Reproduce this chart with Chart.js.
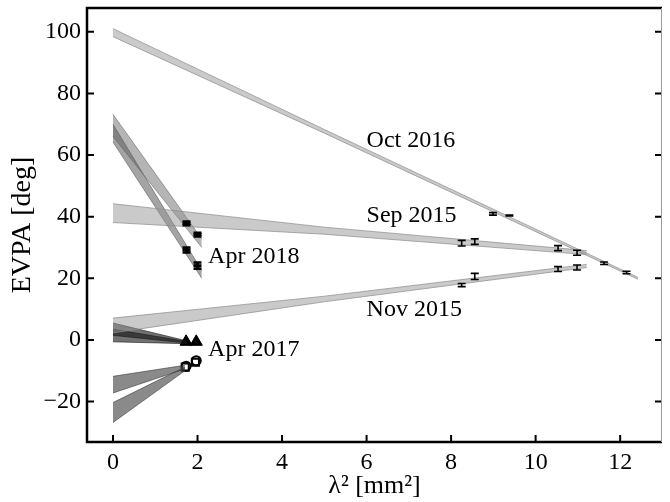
<!DOCTYPE html>
<html>
<head>
<meta charset="utf-8">
<script src="https://cdn.jsdelivr.net/npm/chart.js@4/dist/chart.umd.min.js"></script>
<style>
  html, body { margin: 0; padding: 0; background: #fff; }
  #wrap { width: 670px; height: 502px; }
</style>
</head>
<body>
<div id="wrap"><canvas id="evpaChart" width="670" height="502"></canvas></div>
<script>
// fit bands: x of edge points, upper edge, lower edge
var octX = [0, 5, 12.42];
var octHi = [101.0, 68.3, 20.3];
var octLo = [98.4, 67.1, 19.7];

var sepX = [0, 5, 11.21];
var sepHi = [44.2, 36.6, 29.0];
var sepLo = [38.1, 34.3, 27.7];

var novX = [0, 5, 11.21];
var novHi = [7.1, 14.2, 24.5];
var novLo = [2.3, 12.4, 23.5];

var apr18X = [0, 2.1];
var apr18aHi = [73.2, 32.8];
var apr18aLo = [66.0, 30.0];
var apr18bHi = [70.0, 22.5];
var apr18bLo = [64.2, 20.0];

var apr17X = [0, 1.75];
var apr17aHi = [5.5, -0.3];
var apr17aLo = [1.5, -1.0];
var apr17bHi = [3.5, -0.5];
var apr17bLo = [-0.6, -1.2];

var sqX = [0, 1.7];
var sqaHi = [-11.8, -8.2];
var sqaLo = [-17.2, -9.4];
var sqbHi = [-20.3, -8.8];
var sqbLo = [-26.8, -10.0];

// measurements with error bars
var octPtX = [8.99, 9.38, 11.62, 12.15];
var octPtY = [40.9, 40.4, 24.9, 21.9];
var octPtE = [0.4, 0.15, 0.4, 0.4];

var sepPtX = [8.25, 8.56, 10.53, 10.98];
var sepPtY = [31.4, 31.9, 29.8, 28.3];
var sepPtE = [0.9, 0.9, 0.8, 0.8];

var novPtX = [8.25, 8.56, 10.53, 10.98];
var novPtY = [17.8, 20.6, 23.0, 23.5];
var novPtE = [0.5, 1.0, 0.8, 0.8];

var apr18PtX = [1.74, 2.0, 1.74, 2.0];
var apr18PtY = [37.8, 34.2, 29.2, 24.1];
var apr18PtE = [0.6, 0.6, 0.8, 1.0];

var triX = [1.73, 1.97];
var triY = [-0.6, -0.6];
var squareX = [1.71, 1.95];
var squareY = [-8.8, -7.2];
var circleX = [1.73, 1.97];
var circleY = [-8.5, -6.7];

// annotations
var labelText = ["Oct 2016", "Sep 2015", "Nov 2015", "Apr 2018", "Apr 2017"];
var labelX = [6.0, 6.0, 6.0, 2.25, 2.25];
var labelY = [64.5, 40.2, 9.8, 27.0, -3.2];

var xTicks = [0, 2, 4, 6, 8, 10, 12];
var yTicks = [-20, 0, 20, 40, 60, 80, 100];

var SERIF = "'Liberation Serif', 'DejaVu Serif', serif";
Chart.defaults.font.family = SERIF;
Chart.defaults.color = "#000";

function pts(xs, ys) {
  return xs.map(function (v, i) { return {x: v, y: ys[i]}; });
}

var datasets = [];
function band(xs, hi, lo, fillCol, edgeCol) {
  datasets.push({
    type: "line", data: pts(xs, hi), borderColor: edgeCol, borderWidth: 1,
    pointRadius: 0, fill: false, tension: 0
  });
  datasets.push({
    type: "line", data: pts(xs, lo), borderColor: edgeCol, borderWidth: 1,
    pointRadius: 0, fill: "-1", backgroundColor: fillCol, tension: 0
  });
}

band(octX, octHi, octLo, "rgba(150,150,150,0.5)", "rgba(140,140,140,0.7)");
band(sepX, sepHi, sepLo, "rgba(150,150,150,0.5)", "rgba(140,140,140,0.7)");
band(novX, novHi, novLo, "rgba(150,150,150,0.5)", "rgba(140,140,140,0.7)");
band(apr18X, apr18aHi, apr18aLo, "rgba(90,90,90,0.45)", "rgba(90,90,90,0.5)");
band(apr18X, apr18bHi, apr18bLo, "rgba(90,90,90,0.55)", "rgba(90,90,90,0.6)");
band(apr17X, apr17aHi, apr17aLo, "rgba(20,20,20,0.6)", "rgba(20,20,20,0.6)");
band(apr17X, apr17bHi, apr17bLo, "rgba(20,20,20,0.6)", "rgba(20,20,20,0.6)");
band(sqX, sqaHi, sqaLo, "rgba(60,60,60,0.6)", "rgba(60,60,60,0.6)");
band(sqX, sqbHi, sqbLo, "rgba(60,60,60,0.6)", "rgba(60,60,60,0.6)");

datasets.push({
  type: "scatter", data: pts(triX, triY), pointStyle: "triangle",
  pointRadius: 7, backgroundColor: "#000", borderColor: "#000", borderWidth: 1
});
datasets.push({
  type: "scatter", data: pts(squareX, squareY), pointStyle: "rect",
  pointRadius: 5, backgroundColor: "rgba(0,0,0,0)", borderColor: "#000", borderWidth: 2
});
datasets.push({
  type: "scatter", data: pts(circleX, circleY), pointStyle: "circle",
  pointRadius: 4.5, backgroundColor: "rgba(0,0,0,0)", borderColor: "#000", borderWidth: 2
});

var errorSets = [
  {x: octPtX, y: octPtY, e: octPtE, bold: false},
  {x: sepPtX, y: sepPtY, e: sepPtE, bold: false},
  {x: novPtX, y: novPtY, e: novPtE, bold: false},
  {x: apr18PtX, y: apr18PtY, e: apr18PtE, bold: true}
];

var extras = {
  id: "extras",
  afterDatasetsDraw: function (chart) {
    var ctx = chart.ctx, xs = chart.scales.x, ys = chart.scales.y;
    ctx.save();
    ctx.strokeStyle = "#000";
    ctx.fillStyle = "#000";
    errorSets.forEach(function (s) {
      s.x.forEach(function (xv, i) {
        var px = xs.getPixelForValue(xv);
        var top = ys.getPixelForValue(s.y[i] + s.e[i]);
        var bot = ys.getPixelForValue(s.y[i] - s.e[i]);
        var cap = 4;
        ctx.lineWidth = s.bold ? 2.5 : 1.6;
        ctx.beginPath();
        ctx.moveTo(px, top); ctx.lineTo(px, bot);
        ctx.moveTo(px - cap, top); ctx.lineTo(px + cap, top);
        ctx.moveTo(px - cap, bot); ctx.lineTo(px + cap, bot);
        ctx.stroke();
        if (s.bold) {
          var py = ys.getPixelForValue(s.y[i]);
          ctx.fillRect(px - 4, py - 1.5, 8, 3);
        }
      });
    });
    ctx.font = "24px " + SERIF;
    ctx.textAlign = "left";
    ctx.textBaseline = "middle";
    labelText.forEach(function (t, i) {
      ctx.fillText(t, xs.getPixelForValue(labelX[i]), ys.getPixelForValue(labelY[i]));
    });
    ctx.restore();
  },
  afterDraw: function (chart) {
    var ctx = chart.ctx, a = chart.chartArea, xs = chart.scales.x, ys = chart.scales.y;
    ctx.save();
    ctx.strokeStyle = "#000";
    ctx.lineWidth = 2;
    ctx.beginPath();
    xTicks.forEach(function (v) {
      var px = xs.getPixelForValue(v);
      ctx.moveTo(px, a.bottom); ctx.lineTo(px, a.bottom - 7);
    });
    yTicks.forEach(function (v) {
      var py = ys.getPixelForValue(v);
      ctx.moveTo(a.left, py); ctx.lineTo(a.left + 7, py);
      ctx.moveTo(a.right, py); ctx.lineTo(a.right - 7, py);
    });
    ctx.stroke();
    ctx.lineWidth = 2.5;
    ctx.beginPath();
    ctx.moveTo(a.right, a.top); ctx.lineTo(a.left, a.top);
    ctx.lineTo(a.left, a.bottom); ctx.lineTo(a.right, a.bottom);
    ctx.stroke();
    ctx.lineWidth = 1;
    ctx.strokeStyle = "#999";
    ctx.beginPath();
    ctx.moveTo(a.right - 0.5, a.top); ctx.lineTo(a.right - 0.5, a.bottom);
    ctx.stroke();
    ctx.restore();
  }
};

function minusSign(v) {
  return String(v).replace("-", "\u2212");
}

new Chart("evpaChart", {
  type: "scatter",
  data: {datasets: datasets},
  options: {
    responsive: false,
    animation: false,
    layout: {padding: {top: 8, right: 1, left: 0, bottom: 0}},
    plugins: {legend: {display: false}, tooltip: {enabled: false}},
    scales: {
      x: {
        type: "linear", min: -0.615, max: 12.99,
        grid: {display: false, drawTicks: false},
        border: {display: false},
        afterBuildTicks: function (s) { s.ticks = xTicks.map(function (v) { return {value: v}; }); },
        afterFit: function (s) { s.height = 60; s.paddingLeft = 0; s.paddingRight = 0; },
        ticks: {font: {size: 24}, padding: 6, maxRotation: 0, callback: minusSign},
        title: {display: true, text: "\u03bb\u00b2 [mm\u00b2]", font: {size: 26}, padding: {top: 0, bottom: 0}}
      },
      y: {
        type: "linear", min: -33.1, max: 107.7,
        grid: {display: false, drawTicks: false},
        border: {display: false},
        afterBuildTicks: function (s) { s.ticks = yTicks.map(function (v) { return {value: v}; }); },
        afterFit: function (s) { s.width = 87; s.paddingTop = 0; s.paddingBottom = 0; },
        ticks: {font: {size: 24}, padding: 6, callback: minusSign},
        title: {display: true, text: "EVPA [deg]", font: {size: 28}, padding: {top: 6, bottom: 0}}
      }
    }
  },
  plugins: [extras]
});
</script>
</body>
</html>
